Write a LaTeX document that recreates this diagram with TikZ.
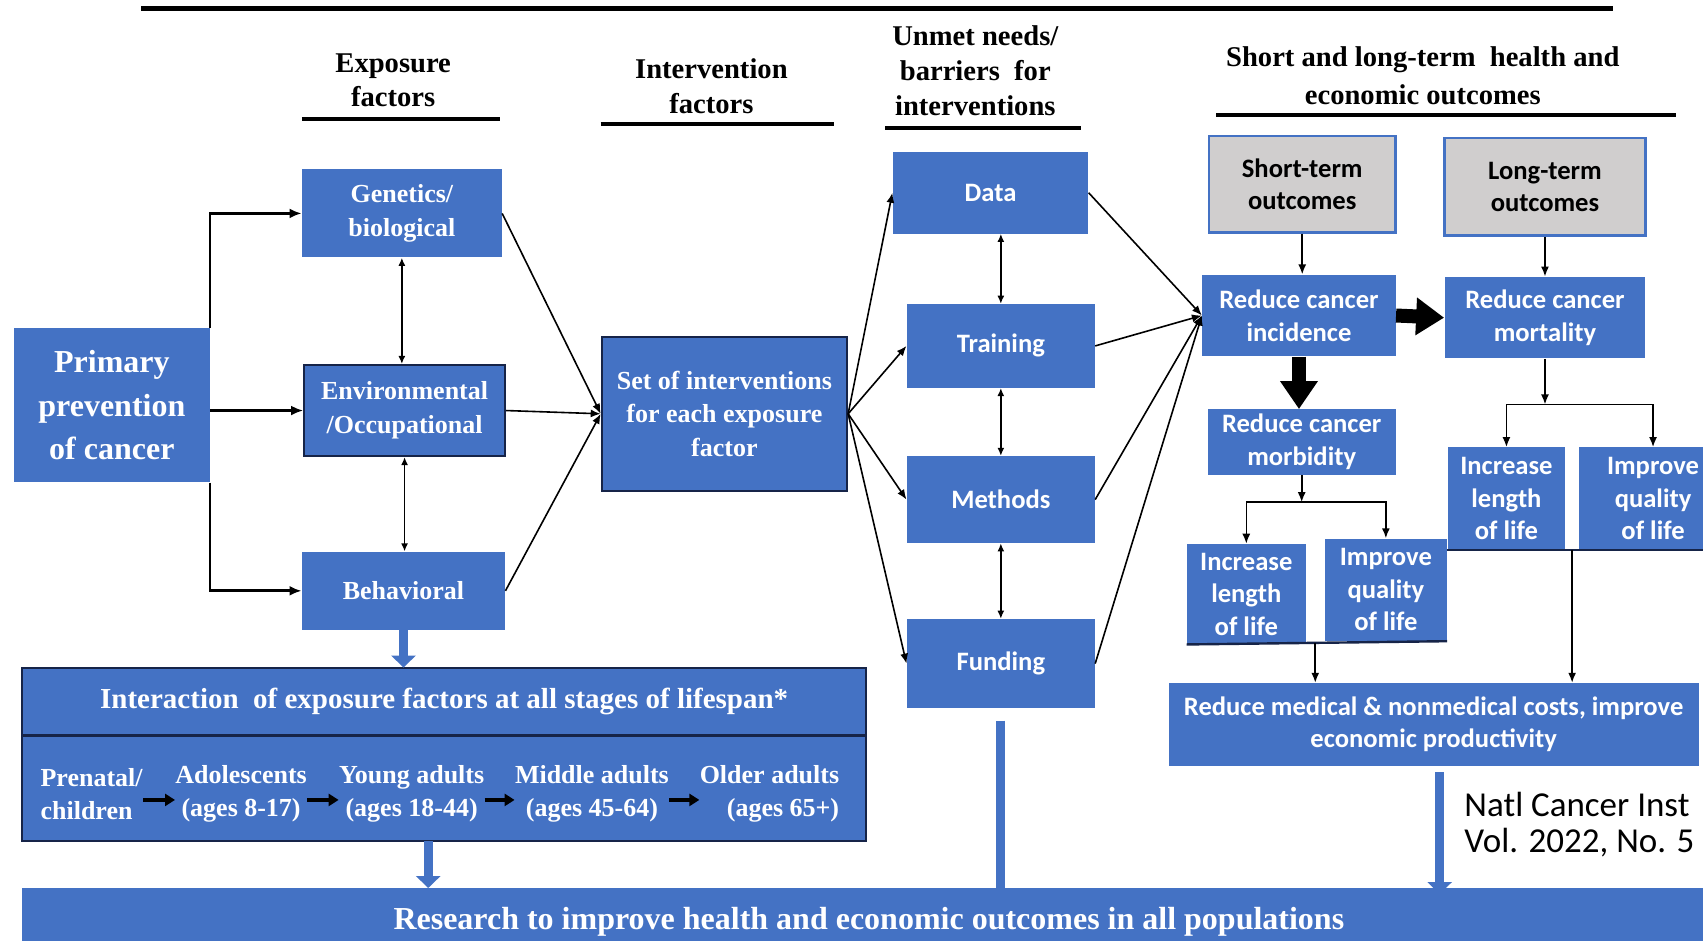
\documentclass[tikz,border=0pt]{standalone}
\usepackage{fontspec}
\setmainfont{Liberation Serif}
\newfontfamily\calfont{Carlito}
\usetikzlibrary{arrows.meta,calc}
\definecolor{boxblue}{RGB}{68,114,196}
\definecolor{boxgray}{RGB}{208,206,206}
\definecolor{edgenavy}{RGB}{22,36,72}

\begin{document}
\begin{tikzpicture}[x=0.5431pt, y=-0.5431pt,
    box/.style={fill=boxblue, text=white, align=center, inner sep=0pt,
      font=\fontsize{13}{16.8}\selectfont\bfseries},
    cbox/.style={box, font=\calfont\fontsize{13.3}{16.3}\selectfont\bfseries},
    gbox/.style={cbox, fill=boxgray, draw=boxblue, line width=1.2pt, text=black},
    edged/.style={draw=edgenavy, line width=1pt},
    sz/.style 2 args={minimum width=#1*0.5431pt, minimum height=#2*0.5431pt},
    head/.style={align=center, font=\fontsize{14.3}{17.4}\selectfont\bfseries},
    rule/.style={line width=2pt},
    arr/.style={-{Latex[length=5pt,width=4pt]}, line width=0.8pt},
    darr/.style={{Latex[length=4pt,width=3.5pt]}-{Latex[length=4pt,width=3.5pt]}, line width=0.7pt},
    parr/.style={-{Latex[length=6pt,width=5pt]}, line width=1.4pt},
    fatarr/.style={line width=7pt, -{Triangle[length=14pt,width=18pt]}},
    bluearr/.style={draw=boxblue, line width=4.5pt, -{Triangle[length=6pt,width=12pt]}},
    sarr/.style={line width=1.6pt, -{Triangle[length=5pt,width=6pt]}}]

  \useasboundingbox[fill=white] (0,0) rectangle (1568,866);

  % headings
  \draw[line width=2.4pt] (130,8) -- (1485,8);
  \node[head] (hexp) at (362,74) {Exposure\\factors};
  \node[head] (hint) at (655,79.5) {Intervention\\factors};
  \node[head] (hunm) at (898,65) {Unmet needs/\\barriers\ \ for\\interventions};
  \node[head, font=\fontsize{14.3}{19}\selectfont\bfseries] (hout) at (1310,69.5)
    {Short and long-term\ \ health and\\economic outcomes};
  \draw[rule] (278,110) -- (460,110);
  \draw[rule] (553,114) -- (768,114);
  \draw[rule] (815,118) -- (995,118);
  \draw[rule] (1120,106) -- (1543,106);

  % exposure factors
  \node[box, sz={180}{142}, font=\fontsize{16}{21.7}\selectfont\bfseries] (prim) at (103,373)
    {Primary\\prevention\\of cancer};
  \node[box, sz={184}{81}] (gen) at (370,196.5) {Genetics/\\biological};
  \node[box, edged, sz={185}{84}] (env) at (372.5,378) {Environmental\\/Occupational};
  \node[box, sz={187}{72}] (beh) at (371.5,544) {Behavioral};
  \node[box, edged, sz={226}{142}] (set) at (667,381) {Set of interventions\\for each exposure\\factor};

  % unmet needs
  \node[cbox, sz={180}{75}] (data) at (912,177.5) {Data};
  \node[cbox, sz={173}{77}] (train) at (921.5,318.5) {Training};
  \node[cbox, sz={173}{80}] (meth) at (921.5,460) {Methods};
  \node[cbox, sz={173}{82}] (fund) at (921.5,611) {Funding};

  % outcomes
  \node[gbox, sz={172}{89}] (short) at (1199,169.5) {Short-term\\outcomes};
  \node[gbox, sz={185}{90}] (long) at (1422.5,172) {Long-term\\outcomes};
  \node[cbox, sz={178}{75}] (inc) at (1196,290.5) {Reduce cancer\\incidence};
  \node[cbox, sz={185}{75}] (mort) at (1422.5,292.5) {Reduce cancer\\mortality};
  \node[cbox, sz={173}{60}] (morb) at (1198.5,407) {Reduce cancer\\morbidity};
  \node[cbox, sz={109}{92}] (lenA) at (1147.5,547) {Increase\\length\\of life};
  \node[cbox, sz={112}{94}] (qualA) at (1276,543) {Improve\\quality\\of life};
  \node[cbox, sz={108}{94}] (lenB) at (1387,459) {Increase\\length\\of life};
  \node[cbox, sz={136}{94}] (qualB) at (1522,459) {Improve\\quality\\of life};
  \node[cbox, sz={488}{76}] (costs) at (1320,667)
    {Reduce medical \& nonmedical costs, improve\\economic productivity};

  % lifespan
  \node[box, sz={776}{62}, font=\fontsize{14.5}{16}\selectfont\bfseries] (interhd) at (409,646)
    {Interaction\ \ of exposure factors at all stages of lifespan*};
  \node[box, sz={776}{97}] (inter) at (409,725.5) {};
  \draw[edged] (interhd.north west) rectangle (inter.south east);
  \draw[line width=1.6pt, edgenavy] (interhd.south west) -- (interhd.south east);
  \node[box, fill=none, anchor=west, align=left] (st1) at (37,731) {Prenatal/\\children};
  \node[box, fill=none] (st2) at (222,731) {Adolescents\\(ages 8-17)};
  \node[box, fill=none] (st3) at (379,731) {Young adults\\(ages 18-44)};
  \node[box, fill=none] (st4) at (545,731) {Middle adults\\(ages 45-64)};
  \node[box, fill=none, anchor=east, align=right] (st5) at (773,731) {Older adults\\(ages 65+)};
  \foreach \a/\b in {st1/st2,st2/st3,st3/st4,st4/st5}
    \draw[sarr] ([yshift=-3pt]\a.east) -- ([yshift=-3pt]\b.west);

  \node[box, sz={1560}{62}, font=\fontsize{16}{19}\selectfont\bfseries] (res) at (800,849)
    {Research to improve health and economic outcomes in all populations};
  \node[anchor=west, align=left, inner sep=0pt, font=\calfont\fontsize{17.5}{18}\selectfont] (cite)
    at (1348,759) {Natl Cancer Inst\\Vol. 2022, No. 5};

  % connectors
  \draw[parr] (prim.north east) |- (gen.west);
  \draw[parr] (prim.east |- env.west) -- (env.west);
  \draw[parr] (prim.south east) |- (beh.west);
  \draw[darr] (gen.south) -- (gen.south |- env.north);
  \draw[darr] (env.south) -- (env.south |- beh.north);
  \foreach \n in {gen,env,beh}
    \draw[arr] (\n.east) -- (set.west);
  \foreach \n in {data,train,meth,fund}
    \draw[arr] (set.east) -- (\n.west);
  \draw[darr] (train.north |- data.south) -- (train.north);
  \draw[darr] (train.south) -- (meth.north);
  \draw[darr] (meth.south) -- (fund.north);
  \foreach \n in {data,train,meth,fund}
    \draw[arr] (\n.east) -- (inc.west);
  \draw[arr] (short.south) -- (short.south |- inc.north);
  \draw[arr] (long.south) -- (long.south |- mort.north);
  \draw[fatarr] (inc.east) -- (mort.west);
  \draw[fatarr] (inc.south) -- (inc.south |- morb.north);

  \coordinate (jm) at ($(morb.south)+(0,25)$);
  \draw[arr] (morb.south) -- (jm);
  \draw[arr] (jm) -| (lenA.north);
  \draw[arr] (jm) -| (qualA.north);
  \coordinate (jr) at ($(mort.south)+(0,42)$);
  \draw[arr] (mort.south) -- (jr);
  \draw[arr] (jr) -| (lenB.north);
  \draw[arr] (jr) -| (qualB.north);

  \draw[line width=1.2pt, edgenavy] (lenA.south west) -- (qualA.south east);
  \draw[line width=1.2pt, edgenavy] (lenB.south west) -- (qualB.south east);
  \coordinate (pA) at ($(lenA.south east)!0.5!(qualA.south west)$);
  \coordinate (pB) at ($(lenB.south east)!0.5!(qualB.south west)$);
  \draw[arr] (pA) -- (pA |- costs.north);
  \draw[arr] (pB) -- (pB |- costs.north);

  \draw[bluearr] (beh.south) -- (beh.south |- interhd.north);
  \draw[bluearr] ([xshift=-8pt]inter.south) -- ([xshift=-8pt]inter.south |- res.north);
  \draw[bluearr] ([yshift=-6pt]fund.south) -- ([yshift=-6pt]fund.south |- res.north);
  \draw[bluearr] ([xshift=3pt,yshift=-3pt]costs.south) -- ([xshift=3pt,yshift=-3pt]costs.south |- res.north);
\end{tikzpicture}
\end{document}
